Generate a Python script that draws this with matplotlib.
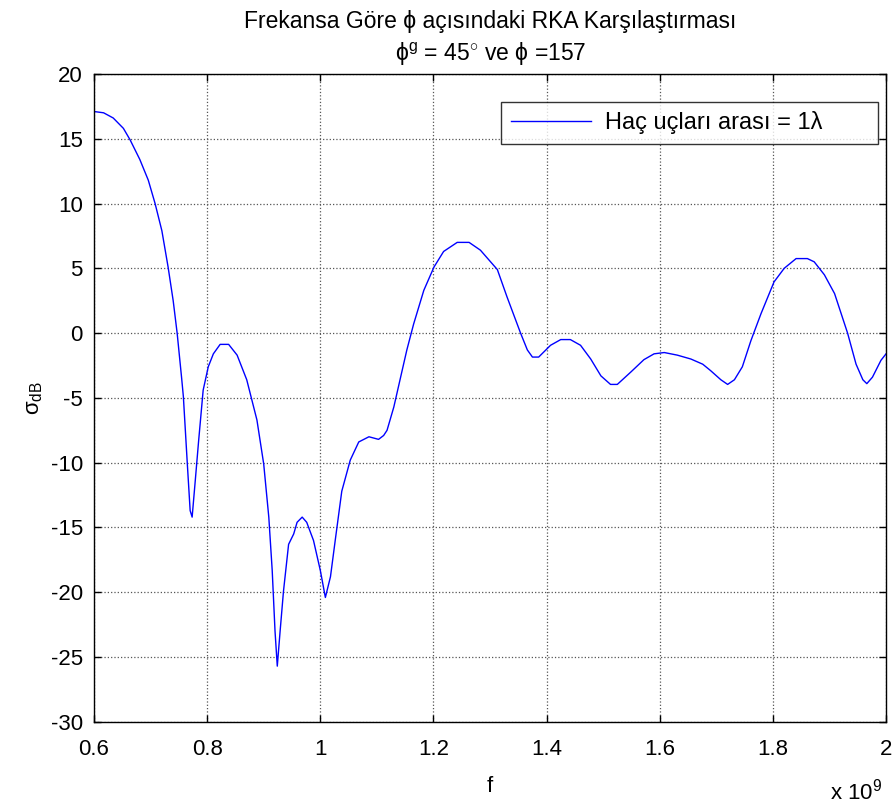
import matplotlib
matplotlib.use("Agg")
import matplotlib.pyplot as plt

plt.rcParams['font.family'] = ['Liberation Sans', 'DejaVu Sans']
plt.rcParams['mathtext.fontset'] = 'custom'
plt.rcParams['mathtext.rm'] = 'Liberation Sans'
plt.rcParams['mathtext.it'] = 'Liberation Sans:italic'
plt.rcParams['axes.unicode_minus'] = False

# frequency (x 10^9 Hz) and RCS in dB
f = [0.600, 0.617, 0.634, 0.652, 0.664, 0.681, 0.696, 0.708, 0.720, 0.731,
     0.740, 0.747, 0.755, 0.758, 0.765, 0.770, 0.7735, 0.779, 0.785, 0.793,
     0.802, 0.811, 0.823, 0.838, 0.853, 0.870, 0.888, 0.900, 0.909, 0.915,
     0.920, 0.924, 0.929, 0.935, 0.944, 0.953, 0.959, 0.968, 0.976, 0.988,
     1.000, 1.009, 1.018, 1.027, 1.038, 1.053, 1.068, 1.086, 1.103, 1.112,
     1.118, 1.130, 1.142, 1.153, 1.165, 1.183, 1.201, 1.218, 1.242, 1.263,
     1.283, 1.301, 1.313, 1.330, 1.354, 1.366, 1.375, 1.386, 1.407, 1.425,
     1.442, 1.460, 1.478, 1.496, 1.513, 1.525, 1.549, 1.572, 1.590, 1.608,
     1.631, 1.655, 1.676, 1.690, 1.708, 1.720, 1.732, 1.746, 1.761, 1.779,
     1.802, 1.820, 1.841, 1.861, 1.873, 1.891, 1.909, 1.932, 1.947, 1.959,
     1.966, 1.976, 1.991, 2.000]
sigma_db = [17.1, 17.0, 16.6, 15.8, 14.9, 13.4, 11.8, 10.0, 7.9, 5.1,
            2.5, 0.0, -3.5, -4.9, -10.1, -13.7, -14.2, -11.4, -8.3, -4.4,
            -2.6, -1.6, -0.87, -0.87, -1.7, -3.6, -6.7, -10.1, -14.2, -18.3,
            -23.0, -25.7, -23.0, -19.9, -16.3, -15.5, -14.6, -14.2, -14.6, -16.0,
            -18.3, -20.4, -18.8, -15.8, -12.2, -9.8, -8.4, -8.0, -8.2, -7.9,
            -7.5, -5.7, -3.4, -1.3, 0.7, 3.3, 5.1, 6.3, 7.0, 7.0,
            6.4, 5.5, 4.9, 2.8, 0.0, -1.3, -1.85, -1.85, -0.94, -0.5,
            -0.5, -0.94, -2.0, -3.3, -3.96, -3.96, -3.0, -2.05, -1.6, -1.5,
            -1.7, -2.0, -2.4, -2.9, -3.6, -3.96, -3.6, -2.6, -0.6, 1.5,
            3.95, 5.0, 5.75, 5.75, 5.5, 4.5, 3.05, 0.0, -2.4, -3.6,
            -3.9, -3.4, -2.1, -1.6]

xticks = [0.6, 0.8, 1.0, 1.2, 1.4, 1.6, 1.8, 2.0]
xticklabels = ['0.6', '0.8', '1', '1.2', '1.4', '1.6', '1.8', '2']
yticks = [-30, -25, -20, -15, -10, -5, 0, 5, 10, 15, 20]

fig = plt.figure(figsize=(8.95, 8.07), dpi=100)
ax = fig.add_axes([0.105, 0.1055, 0.885, 0.8029])

ax.plot(f, sigma_db, color='#0000ff', linewidth=1.0, label='Haç uçları arası = 1λ')

ax.set_xlim(0.6, 2.0)
ax.set_ylim(-30, 20)
ax.set_xticks(xticks)
ax.set_xticklabels(xticklabels)
ax.set_yticks(yticks)
ax.tick_params(direction='in', length=5, width=1, labelsize=16,
               top=True, right=True)
ax.tick_params(axis='x', pad=12)
ax.tick_params(axis='y', pad=8)
ax.grid(True, color='#555555', linestyle=':', linewidth=0.9)
for s in ax.spines.values():
    s.set_linewidth(1.0)

ax.set_xlabel('f', fontsize=16, labelpad=12)
ax.set_ylabel(r'σ$_{\mathrm{dB}}$', fontsize=16, labelpad=4)

fig.text(0.548, 0.987, 'Frekansa Göre ϕ açısındaki RKA Karşılaştırması',
         ha='center', va='top', fontsize=16.5)
fig.text(0.548, 0.949, r'ϕ$^{\mathrm{g}}$ = 45$^{\circ}$ ve ϕ =157',
         ha='center', va='top', fontsize=16.5)
fig.text(0.927, 0.0087, r'x 10$^{9}$', ha='left', va='baseline', fontsize=16)

leg = ax.legend(loc='upper left', bbox_to_anchor=(0.514, 0.957, 0.476, 0.0),
                mode='expand', borderaxespad=0, fontsize=17, fancybox=False,
                edgecolor='black', handlelength=3.4, handletextpad=0.6,
                borderpad=0.4)
leg.get_frame().set_linewidth(1.0)

fig.savefig('out.png', dpi=100)
